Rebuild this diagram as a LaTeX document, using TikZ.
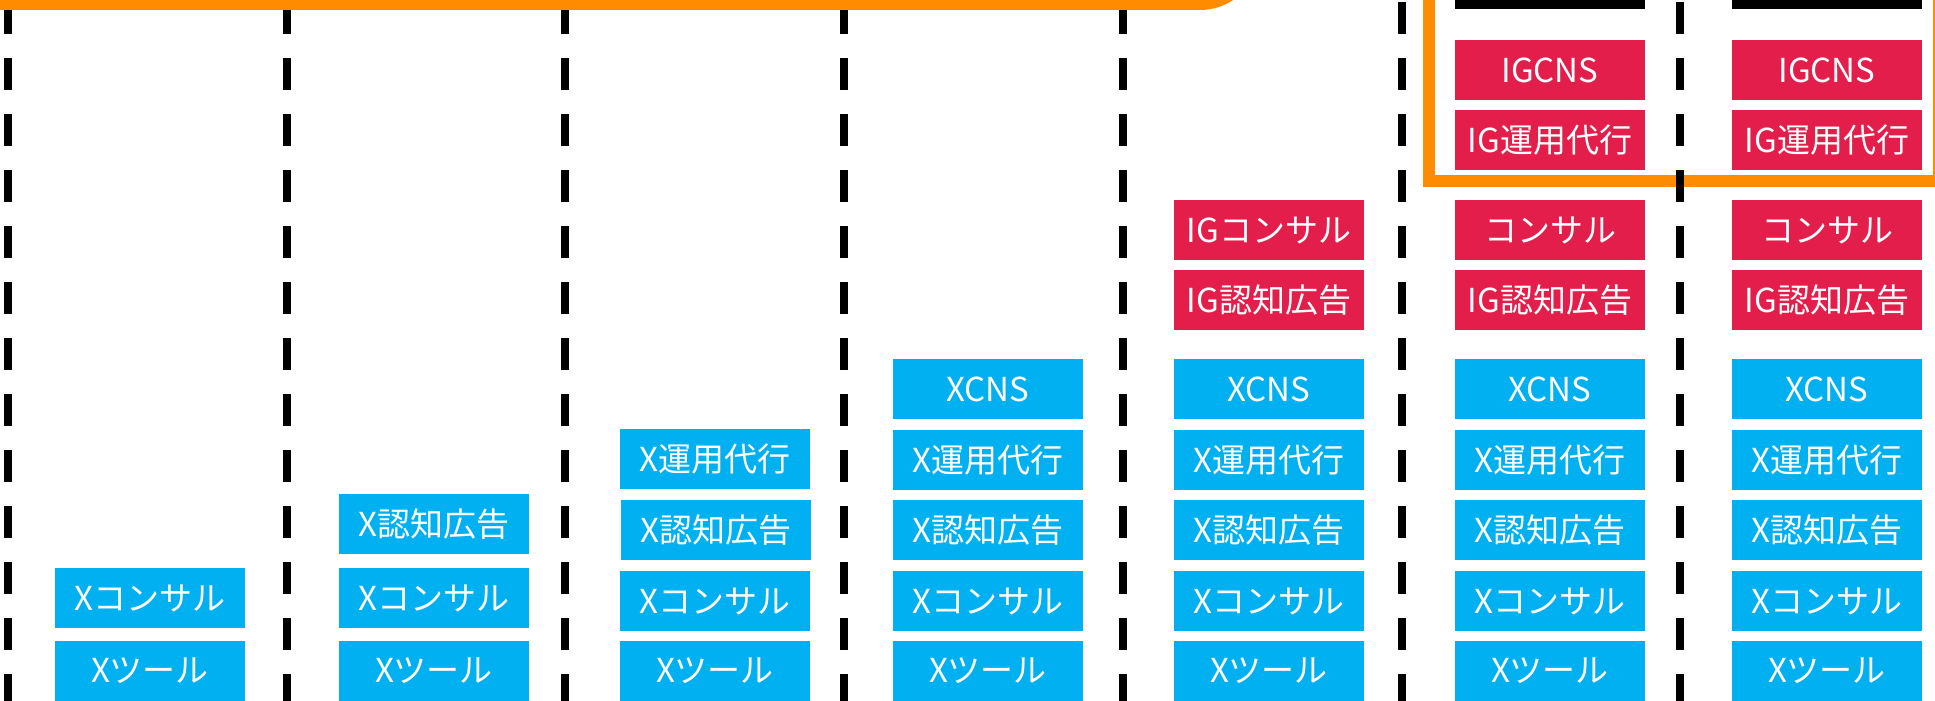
\documentclass[tikz,border=0pt]{standalone}
\usepackage{fontspec}
\newfontfamily\jp{Noto Sans CJK JP}
\definecolor{xblue}{HTML}{00B0F0}
\definecolor{igred}{HTML}{E41E4A}
\definecolor{frameorange}{HTML}{FF8C00}
\tikzset{
  cell/.style={minimum width=190pt, minimum height=60pt, inner sep=0pt, text=white,
    font=\jp\fontsize{33}{33}\selectfont},
  xcell/.style={cell, fill=xblue},
  igcell/.style={cell, fill=igred},
  divider/.style={line width=8pt, dash pattern=on 32pt off 24pt, line cap=butt},
  frame/.style={draw=frameorange, line width=12pt}
}
\begin{document}
\begin{tikzpicture}[x=1pt,y=-1pt]
\useasboundingbox (0,0) rectangle (1935,701);
\clip (0,0) rectangle (1935,701);
% right orange frame (below dividers)
\draw[frame] (1429,-40) -- (1429,181) -- (1939,181) -- (1939,-40);
% dividers
\foreach \xx [count=\i] in {8,287,565,844,1123,1402,1680}{
  \coordinate (dtop\i) at (\xx,2);
  \coordinate (dbot\i) at (\xx,720);
  \draw[divider] (dtop\i) -- (dbot\i);
}
% top orange frame
\draw[frame, rounded corners=54pt] (-60,-200) rectangle (1254,4);
% black bars
\fill[black] (1455,-20) rectangle (1645,9);
\fill[black] (1732,-20) rectangle (1922,9);
% column 1
\node[xcell] (c1a) at (150,598) {Xコンサル};
\node[xcell] (c1b) at (150,671) {Xツール};
% column 2
\node[xcell] (c2a) at (434,524) {X認知広告};
\node[xcell] (c2b) at (434,598) {Xコンサル};
\node[xcell] (c2c) at (434,671) {Xツール};
% column 3
\node[xcell] (c3a) at (715,459) {X運用代行};
\node[xcell] (c3b) at (716,530) {X認知広告};
\node[xcell] (c3c) at (715,601) {Xコンサル};
\node[xcell] (c3d) at (715,671) {Xツール};
% columns 4-7 blue stacks
\foreach \cx/\nm in {988/c4,1269/c5,1550/c6,1827/c7}{
  \node[xcell] (\nm a) at (\cx,389) {XCNS};
  \node[xcell] (\nm b) at (\cx,460) {X運用代行};
  \node[xcell] (\nm c) at (\cx,530) {X認知広告};
  \node[xcell] (\nm d) at (\cx,601) {Xコンサル};
  \node[xcell] (\nm e) at (\cx,671) {Xツール};
}
% column 5 red
\node[igcell] (c5r1) at (1269,230) {IGコンサル};
\node[igcell] (c5r2) at (1269,300) {IG認知広告};
% columns 6-7 red
\foreach \cx/\nm in {1550/c6,1827/c7}{
  \node[igcell] (\nm r1) at (\cx,70) {IGCNS};
  \node[igcell] (\nm r2) at (\cx,140) {IG運用代行};
  \node[igcell] (\nm r3) at (\cx,230) {コンサル};
  \node[igcell] (\nm r4) at (\cx,300) {IG認知広告};
}
\end{tikzpicture}
\end{document}
